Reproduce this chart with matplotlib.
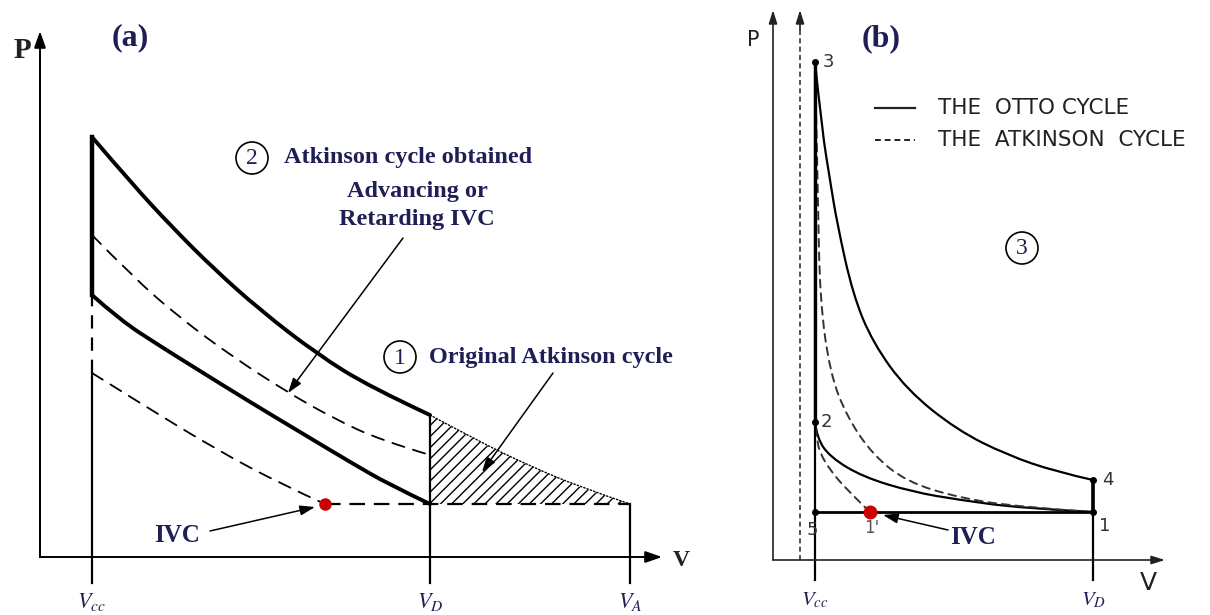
import matplotlib
matplotlib.use("Agg")
import matplotlib.pyplot as plt
from matplotlib.patches import Circle, PathPatch
from matplotlib.path import Path

plt.rcParams.update(
    {
        "font.family": ["Liberation Serif", "DejaVu Serif"],
        "mathtext.fontset": "stix",
        "hatch.linewidth": 1.0,
    }
)

NAVY = "#1f1f55"
RED = "#cc0000"

# ---- panel (a): schematic p-V values (arbitrary units) ----
a_vcc, a_vd, a_va = 52, 390, 590
a_upper_v = [52, 93, 133, 173, 220, 277, 330, 390]
a_upper_p = [420, 372, 329, 289, 247, 203, 170, 142]
a_lower_v = [52, 80, 120, 160, 210, 260, 310, 350, 390]
a_lower_p = [262, 237, 211, 186, 155, 125, 95, 72, 53]
a_dash_hi_v = [52, 93, 140, 193, 247, 293, 340, 390]
a_dash_hi_p = [322, 280, 239, 200, 165, 139, 117, 102]
a_dash_lo_v = [52, 100, 177, 243, 285]
a_dash_lo_p = [184, 154, 107, 72, 53]
a_hatch_v = [390, 440, 490, 540, 590]
a_hatch_p = [142, 115, 91, 70, 53]
a_ivc = (285, 53)
a_text2 = ["Atkinson cycle obtained", "Advancing or", "Retarding IVC"]
a_text1 = "Original Atkinson cycle"

# ---- panel (b): Otto vs Atkinson ----
b_vcc, b_vd = 42, 320
b_points = {"3": (42, 498), "2": (42, 138), "4": (320, 80), "1": (320, 48), "5": (42, 48)}
b_otto_exp_v = [42, 49, 57, 64, 80, 100, 134, 184, 234, 284, 320]
b_otto_exp_p = [498, 430, 380, 337, 265, 217, 170, 130, 105, 88, 80]
b_otto_cmp_v = [42, 44, 57, 90, 140, 187, 247, 320]
b_otto_cmp_p = [138, 122, 103, 83, 68, 60, 52, 48]
b_atk_exp_v = [42, 45, 47, 57, 74, 100, 134, 187, 247, 320]
b_atk_exp_p = [498, 360, 260, 187, 143, 105, 78, 62, 53, 48]
b_atk_cmp_v = [97, 74, 57, 47, 44, 42]
b_atk_cmp_p = [48, 70, 90, 107, 120, 135]
b_ivc = (97, 48)
b_legend = ["THE  OTTO CYCLE", "THE  ATKINSON  CYCLE"]

fig = plt.figure(figsize=(12.1, 6.15), dpi=100)
# one data unit = one pixel, origin at each panel's axis corner
ax_a = fig.add_axes([0, 0, 700 / 1210, 1])
ax_a.set_xlim(-40, 660)
ax_a.set_ylim(-58, 557)
ax_b = fig.add_axes([700 / 1210, 0, 510 / 1210, 1])
ax_b.set_xlim(-73, 437)
ax_b.set_ylim(-55, 560)
for ax in (ax_a, ax_b):
    ax.axis("off")

arrow = dict(arrowstyle="-|>,head_length=0.9,head_width=0.3", color="k", lw=1.1, shrinkA=0, shrinkB=0)
big_arrow = dict(arrowstyle="-|>,head_length=1.0,head_width=0.35", color="k", lw=1.4, shrinkA=0, shrinkB=0)


def curve(ax, v, p, **kw):
    # smooth path through the read points (quadratic B-spline, points as control polygon)
    pts = list(zip(v, p))
    verts, codes = [pts[0]], [Path.MOVETO]
    for i in range(1, len(pts) - 1):
        nxt = pts[i + 1] if i == len(pts) - 2 else ((pts[i][0] + pts[i + 1][0]) / 2, (pts[i][1] + pts[i + 1][1]) / 2)
        verts += [pts[i], nxt]
        codes += [Path.CURVE3, Path.CURVE3]
    ax.add_patch(PathPatch(Path(verts, codes), fill=False, capstyle="round", **kw))


def circled(ax, x, y, s):
    ax.add_patch(Circle((x, y), 16, fill=False, ec="k", lw=1.2))
    ax.text(x, y - 1, s, ha="center", va="center", fontsize=17, color=NAVY)


# ===== panel (a) =====
ax = ax_a
ax.annotate("", xy=(0, 526), xytext=(0, 0), arrowprops=big_arrow)
ax.annotate("", xy=(622, 0), xytext=(0, 0), arrowprops=big_arrow)
ax.plot([0, 0], [0, 500], color="k", lw=1.4)
ax.text(-18, 507, "P", fontsize=21, fontweight="bold", ha="center", va="center", color="#222")
ax.text(90, 519, "(a)", fontsize=23, fontweight="bold", ha="center", va="center", color=NAVY)
ax.text(641, -3, "V", fontsize=17, fontweight="bold", ha="center", va="center", color="#222")

for v, lab in [(a_vcc, "$V_{cc}$"), (a_vd, "$V_D$"), (a_va, "$V_A$")]:
    ax.text(v, -45, lab, fontsize=16, ha="center", va="center", color=NAVY)

ax.plot([a_vcc, a_vcc], [-26, a_dash_lo_p[0]], color="k", lw=1.6)
ax.plot([a_vcc, a_vcc], [a_dash_lo_p[0], a_lower_p[0]], color="k", lw=1.6, ls=(0, (6, 4)))
ax.plot([a_vcc, a_vcc], [a_lower_p[0], a_upper_p[0]], color="k", lw=3.2)
ax.plot([a_vd, a_vd], [-26, a_upper_p[-1]], color="k", lw=1.6)
ax.plot([a_va, a_va], [-26, a_hatch_p[-1]], color="k", lw=1.6)

curve(ax, a_upper_v, a_upper_p, color="k", lw=2.8)
curve(ax, a_lower_v, a_lower_p, color="k", lw=2.8)
curve(ax, a_dash_hi_v, a_dash_hi_p, color="k", lw=1.3, ls=(0, (7, 5)))
curve(ax, a_dash_lo_v, a_dash_lo_p, color="k", lw=1.3, ls=(0, (7, 5)))
ax.plot([a_ivc[0], a_va], [a_ivc[1], a_ivc[1]], color="k", lw=1.6, ls=(0, (7, 4)))
ax.fill_between(a_hatch_v, a_hatch_p[-1], a_hatch_p, facecolor="none", edgecolor="k", hatch="///", lw=0)
curve(ax, a_hatch_v, a_hatch_p, color="k", lw=1.0, ls=(0, (1, 1.5)))
ax.plot(*a_ivc, "o", color=RED, ms=8, zorder=5)

circled(ax, 212, 399, "2")
ax.text(244, 399, a_text2[0], fontsize=17.5, fontweight="bold", ha="left", va="center", color=NAVY)
ax.text(377, 365, a_text2[1], fontsize=17.5, fontweight="bold", ha="center", va="center", color=NAVY)
ax.text(377, 337, a_text2[2], fontsize=17.5, fontweight="bold", ha="center", va="center", color=NAVY)
ax.annotate("", xy=(248, 164), xytext=(363, 319), arrowprops=arrow)

circled(ax, 360, 200, "1")
ax.text(389, 200, a_text1, fontsize=17.5, fontweight="bold", ha="left", va="center", color=NAVY)
ax.annotate("", xy=(442, 85), xytext=(513, 184), arrowprops=arrow)

ax.text(137, 22, "IVC", fontsize=18, fontweight="bold", ha="center", va="center", color=NAVY)
ax.annotate("", xy=(275, 50), xytext=(170, 26), arrowprops=arrow)

# ===== panel (b) =====
ax = ax_b
thin = dict(arrowstyle="-|>,head_length=0.8,head_width=0.25", color="#222", lw=1.2, shrinkA=0, shrinkB=0)
ax.annotate("", xy=(0, 550), xytext=(0, 0), arrowprops=thin)
ax.annotate("", xy=(27, 550), xytext=(27, 530), arrowprops=thin)
ax.plot([27, 27], [0, 532], color="#333", lw=1.2, ls=(0, (3, 2)))
ax.annotate("", xy=(392, 0), xytext=(0, 0), arrowprops=thin)
ax.text(-20, 520, "P", fontsize=15, family="DejaVu Sans", ha="center", va="center", color="#222")
ax.text(108, 521, "(b)", fontsize=23, fontweight="bold", ha="center", va="center", color=NAVY)
ax.text(375, -23, "V", fontsize=18, family="DejaVu Sans", ha="center", va="center", color="#222")
ax.text(b_vcc, -40, "$V_{cc}$", fontsize=15, ha="center", va="center", color=NAVY)
ax.text(b_vd, -40, "$V_D$", fontsize=15, ha="center", va="center", color=NAVY)

ax.plot([b_vcc, b_vcc], [-20, b_points["3"][1]], color="k", lw=1.6)
ax.plot([b_vcc, b_vcc], [b_points["2"][1], b_points["3"][1]], color="k", lw=2.4)
ax.plot([b_vd, b_vd], [-20, b_points["4"][1]], color="k", lw=1.6)
ax.plot([b_vd, b_vd], [b_points["1"][1], b_points["4"][1]], color="k", lw=2.6)
ax.plot([b_vcc, b_vd], [b_points["5"][1], b_points["1"][1]], color="k", lw=2.0)

curve(ax, b_otto_exp_v, b_otto_exp_p, color="k", lw=1.6)
curve(ax, b_otto_cmp_v, b_otto_cmp_p, color="k", lw=1.6)
curve(ax, b_atk_exp_v, b_atk_exp_p, color="#333", lw=1.4, ls=(0, (4, 3)))
curve(ax, b_atk_cmp_v, b_atk_cmp_p, color="#333", lw=1.4, ls=(0, (4, 3)))

for name, (v, p) in b_points.items():
    ax.plot(v, p, "o", color="k", ms=4)
label_pos = {"3": (55, 498), "2": (53, 138), "4": (335, 80), "1": (332, 34), "5": (39, 30)}
for name, (v, p) in label_pos.items():
    ax.text(v, p, name, fontsize=13, family="DejaVu Sans", ha="center", va="center", color="#333")
ax.text(99, 32, "1'", fontsize=12, family="DejaVu Sans", ha="center", va="center", color="#555")
ax.plot(*b_ivc, "o", color=RED, ms=9, zorder=5)
ax.text(200, 23, "IVC", fontsize=18, fontweight="bold", ha="center", va="center", color=NAVY)
ax.annotate("", xy=(110, 45), xytext=(175, 30), arrowprops=arrow)

ax.plot([102, 142], [452, 452], color="#222", lw=1.6)
ax.plot([102, 142], [420, 420], color="#222", lw=1.4, ls=(0, (3, 2)))
ax.text(165, 452, b_legend[0], fontsize=15.5, family="DejaVu Sans", ha="left", va="center", color="#222")
ax.text(165, 420, b_legend[1], fontsize=15.5, family="DejaVu Sans", ha="left", va="center", color="#222")
circled(ax, 249, 312, "3")

fig.savefig("out.png", dpi=100)
